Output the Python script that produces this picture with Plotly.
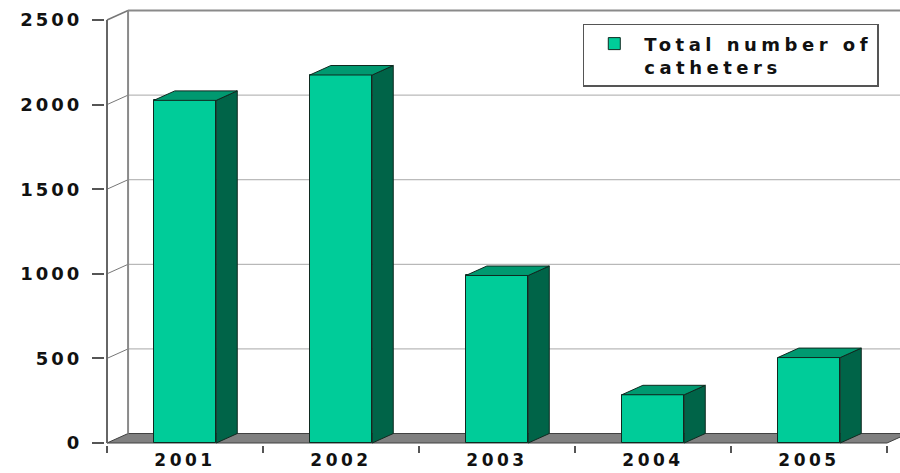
import plotly.graph_objects as go

# ---- data ----
years = ["2001", "2002", "2003", "2004", "2005"]
catheters = [2025, 2175, 990, 285, 505]
y_ticks = [0, 500, 1000, 1500, 2000, 2500]
series_name = ["Total number of", "catheters"]

# ---- styling / geometry (axis units) ----
BAR_W = 0.4          # front face width in category units
DX = 0.135           # depth offset along x (category units)
DY = 56              # depth offset along y (value units)
FRONT = "#00CC99"
TOP = "#009970"
SIDE = "#006448"
EDGE = "#0f2a20"
FONT = "DejaVu Sans"
LS_TICK = "letter-spacing:3px"
LS_XTICK = "letter-spacing:3.5px"
LS_LEG = "letter-spacing:4.5px"

idx = list(range(len(years)))
x_left = -0.5
x_right = len(years) - 0.5
y_max = y_ticks[-1]

fig = go.Figure()

# front faces (bars)
fig.add_trace(go.Bar(
    x=idx, y=catheters, width=BAR_W,
    marker=dict(color=FRONT, line=dict(color=EDGE, width=1)),
    name="<br>".join(f'<span style="{LS_LEG}">{s}</span>' for s in series_name),
    hovertemplate="%{y}<extra></extra>",
))

# side faces
sx, sy = [], []
for i, v in zip(idx, catheters):
    r = i + BAR_W / 2
    sx += [r, r + DX, r + DX, r, r, None]
    sy += [0, DY, v + DY, v, 0, None]
fig.add_trace(go.Scatter(x=sx, y=sy, mode="lines", fill="toself",
                         fillcolor=SIDE, line=dict(color=EDGE, width=1),
                         showlegend=False, hoverinfo="skip"))

# top faces
tx, ty = [], []
for i, v in zip(idx, catheters):
    l, r = i - BAR_W / 2, i + BAR_W / 2
    tx += [l, l + DX, r + DX, r, l, None]
    ty += [v, v + DY, v + DY, v, v, None]
fig.add_trace(go.Scatter(x=tx, y=ty, mode="lines", fill="toself",
                         fillcolor=TOP, line=dict(color=EDGE, width=1),
                         showlegend=False, hoverinfo="skip"))

shapes = []
# floor
shapes.append(dict(
    type="path", xref="x", yref="y", layer="below",
    path=f"M{x_left},0 L{x_right},0 L{x_right + DX},{DY} L{x_left + DX},{DY} Z",
    fillcolor="#808080", line=dict(color="#404040", width=1)))
# back-wall gridlines and side-wall connectors
for t in y_ticks[1:]:
    top = t == y_max
    shapes.append(dict(type="line", xref="x", yref="y", layer="below",
                       x0=x_left + DX, x1=x_right + 1, y0=t + DY, y1=t + DY,
                       line=dict(color="#8a8a8a" if top else "#a8a8a8",
                                 width=2 if top else 1)))
    shapes.append(dict(type="line", xref="x", yref="y", layer="below",
                       x0=x_left, x1=x_left + DX, y0=t, y1=t + DY,
                       line=dict(color="#777777", width=1.5 if top else 1)))
# back-wall left edge
shapes.append(dict(type="line", xref="x", yref="y", layer="below",
                   x0=x_left + DX, x1=x_left + DX, y0=DY, y1=y_max + DY,
                   line=dict(color="#8a8a8a", width=2)))
# front value axis line
shapes.append(dict(type="line", xref="x", yref="y", layer="above",
                   x0=x_left, x1=x_left, y0=0, y1=y_max,
                   line=dict(color="#666666", width=2)))

fig.update_layout(
    width=900, height=473,
    margin=dict(l=105, r=0, t=5, b=28),
    paper_bgcolor="white", plot_bgcolor="white",
    font=dict(family=FONT, size=18, color="#111111", weight="bold"),
    shapes=shapes,
    showlegend=True,
    legend=dict(x=0.601, y=0.957, xanchor="left", yanchor="top",
                bordercolor="#555555", borderwidth=1.5, bgcolor="white",
                valign="top", itemwidth=50,
                font=dict(family=FONT, size=18, color="#111111", weight="bold")),
    xaxis=dict(range=[x_left - 2 / 156, x_left + 793 / 156],
               tickmode="array", tickvals=idx,
               ticktext=[f'<span style="{LS_XTICK}">{y}</span>' for y in years],
               tickfont=dict(size=17),
               ticks="", showgrid=False, zeroline=False, showline=False,
               ticklabelstandoff=3, automargin=False,
               minor=dict(tickmode="array",
                          tickvals=[i - 0.5 for i in range(len(years) + 1)],
                          ticks="outside", ticklen=7, tickcolor="#555555",
                          tickwidth=1.5, showgrid=False),
               fixedrange=True),
    yaxis=dict(range=[-2 / 0.1692, y_max + 15 / 0.1692],
               tickmode="array", tickvals=y_ticks,
               ticktext=[f'<span style="{LS_TICK}">{t}</span>' for t in y_ticks],
               ticks="outside", ticklen=12, tickcolor="#555555", tickwidth=1.5,
               ticklabelstandoff=6, automargin=False,
               showgrid=False, zeroline=False, showline=False, fixedrange=True),
    bargap=0,
)

fig.write_html("out.html")
